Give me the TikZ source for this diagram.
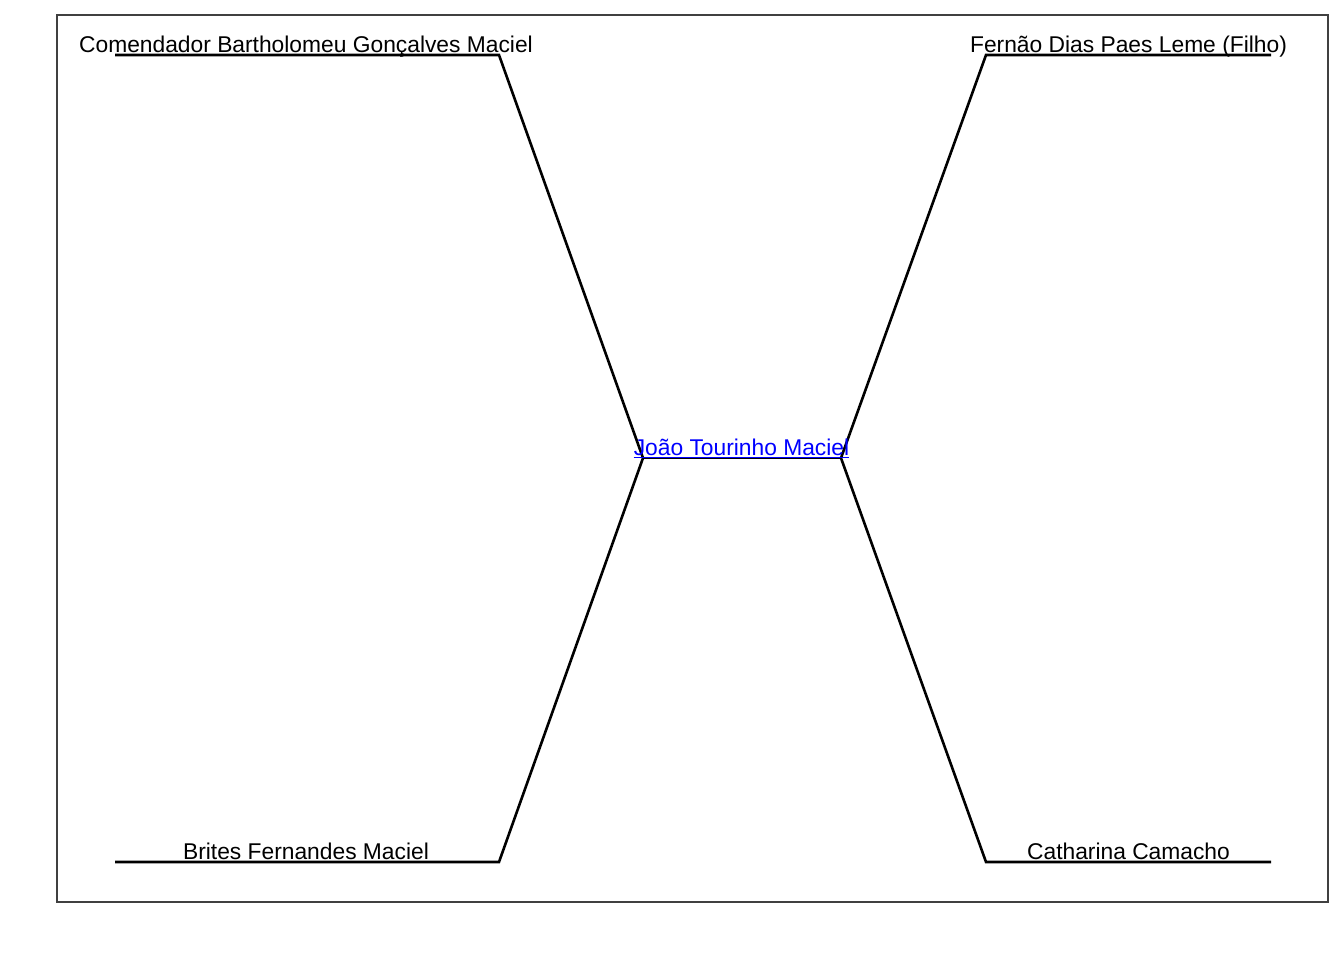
\documentclass[tikz,border=0pt]{standalone}
\usepackage{fontspec}
\setmainfont{Liberation Sans}
\begin{document}
\begin{tikzpicture}[x=1pt,y=-1pt,
  lbl/.style={anchor=base,inner sep=0pt,font=\fontsize{22.8}{26}\selectfont},
  link/.style={line width=2.6pt,black,line join=miter},
  frame/.style={draw=black!75,line width=1.2pt}]
\useasboundingbox (0,0) rectangle (1344,960);
\fill[white] (0,0) rectangle (1344,960);
\draw[frame] (57,15) rectangle (1328,902);
% coordinates of the tree
\coordinate (tl0) at (115,55);
\coordinate (tl1) at (499,55);
\coordinate (bl0) at (115,862);
\coordinate (bl1) at (499,862);
\coordinate (c0) at (643,458);
\coordinate (c1) at (841,458);
\coordinate (tr0) at (986,55);
\coordinate (tr1) at (1271,55);
\coordinate (br0) at (986,862);
\coordinate (br1) at (1271,862);
\draw[link] (tl0) -- (tl1) -- (c0) -- (bl1) -- (bl0);
\draw[link] (c0) -- (c1);
\draw[link] (tr1) -- (tr0) -- (c1) -- (br0) -- (br1);
% labels
\node[lbl] (bart) at (306,52.5) {Comendador Bartholomeu Gonçalves Maciel};
\node[lbl] (fern) at (1128.5,52.5) {Fernão Dias Paes Leme (Filho)};
\node[lbl] (brit) at (306,859.5) {Brites Fernandes Maciel};
\node[lbl] (cath) at (1128.5,859.5) {Catharina Camacho};
\node[lbl,text=blue] (joao) at (741.5,455.5) {João Tourinho Maciel};
\draw[blue,line width=1.2pt] ([yshift=-1.8pt]joao.base west) -- ([yshift=-1.8pt]joao.base east);
\end{tikzpicture}
\end{document}
